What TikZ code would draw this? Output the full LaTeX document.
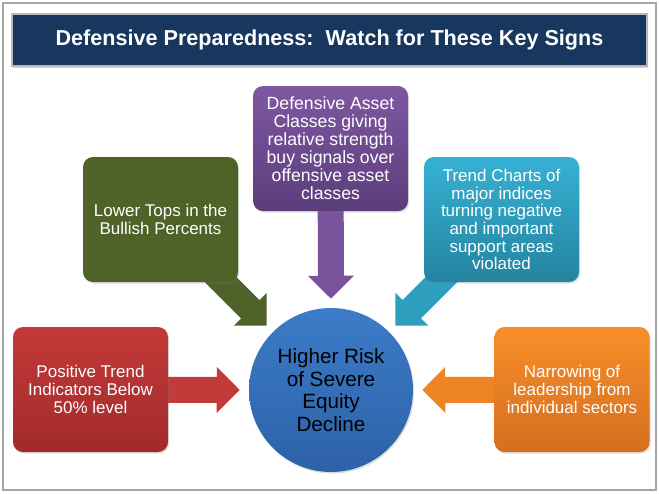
\documentclass[tikz,border=0pt]{standalone}
\usepackage{fontspec}
\setmainfont{Liberation Sans}
\usetikzlibrary{calc, shadows, backgrounds}
\definecolor{titlenavy}{RGB}{23, 55, 94}
\definecolor{framegray}{RGB}{166, 166, 166}
\definecolor{signred}{RGB}{194, 58, 57}
\definecolor{signreddark}{RGB}{163, 42, 42}
\definecolor{signolive}{RGB}{79, 98, 40}
\definecolor{signpurple}{RGB}{126, 88, 162}
\definecolor{signpurpledark}{RGB}{92, 61, 124}
\definecolor{signteal}{RGB}{54, 177, 211}
\definecolor{signtealdark}{RGB}{36, 132, 160}
\definecolor{signorange}{RGB}{248, 142, 42}
\definecolor{signorangedark}{RGB}{212, 111, 30}
\definecolor{centreblue}{RGB}{60, 124, 200}
\definecolor{centrebluedark}{RGB}{45, 97, 168}

% block arrow: colour, from, tip
\newcommand{\blockarrow}[3]{%
  \coordinate (hb) at ($(#3)!17.25pt!(#2)$);
  \fill[#1] ($(#2)!9.75pt!90:(#3)$) -- ($(hb)!9.75pt!90:(#3)$) -- ($(hb)!17.25pt!90:(#3)$)
    -- (#3) -- ($(hb)!17.25pt!-90:(#3)$) -- ($(hb)!9.75pt!-90:(#3)$) -- ($(#2)!9.75pt!-90:(#3)$) -- cycle;}

\begin{document}
\begin{tikzpicture}[
    x=0.75pt, y=-0.75pt,
    sign/.style={rectangle, rounded corners=7.5pt, minimum width=116.25pt, minimum height=93.75pt,
                 inner sep=2pt, text=white, align=center,
                 font=\fontsize{12.75}{13.25}\selectfont,
                 drop shadow={opacity=0.25, shadow xshift=0.8pt, shadow yshift=-1.2pt}},
]
    \useasboundingbox (0,0) rectangle (659,493);

    % Title bar
    \node[fill=titlenavy, draw=gray!55, line width=1pt, minimum width=476.25pt, minimum height=39pt,
          drop shadow={opacity=0.3, shadow xshift=1pt, shadow yshift=-1.5pt},
          text=white, font=\fontsize{16.2}{18}\selectfont\bfseries] (title) at (329.5, 40)
        {Defensive Preparedness:\ \ Watch for These Key Signs};

    % Centre circle
    \node[circle, minimum size=123pt, inner sep=0pt, top color=centreblue, bottom color=centrebluedark,
          align=center, font=\fontsize{15.5}{16.9}\selectfont,
          drop shadow={opacity=0.25, shadow xshift=0.8pt, shadow yshift=-1.2pt}] (risk) at (331, 390)
        {Higher Risk\\of Severe\\Equity\\Decline};

    % Sign boxes
    \node[sign, top color=signred, bottom color=signreddark] (red) at (90.5, 389.5)
        {Positive Trend\\Indicators Below\\50\% level};
    \node[sign, fill=signolive] (olive) at (160.5, 219.5)
        {Lower Tops in the\\Bullish Percents};
    \node[sign, top color=signpurple, bottom color=signpurpledark,
          font=\fontsize{13.25}{13.5}\selectfont] (purple) at (330.5, 148.5)
        {Defensive Asset\\Classes giving\\relative strength\\buy signals over\\offensive asset\\classes};
    \node[sign, top color=signteal, bottom color=signtealdark] (teal) at (501.5, 219.5)
        {Trend Charts of\\major indices\\turning negative\\and important\\support areas\\violated};
    \node[sign, top color=signorange, bottom color=signorangedark] (orange) at (572, 389.5)
        {Narrowing of\\leadership from\\individual sectors};

    % Arrow tips near the circle
    \coordinate (redtip) at ($(risk.west)+(-9,0)$);
    \coordinate (orangetip) at ($(risk.east)+(9,0)$);
    \coordinate (purpletip) at ($(risk.north)+(0,-9)$);
    \coordinate (olivetip) at ($(risk.center)!68.4pt!(olive.center)$);
    \coordinate (tealtip) at ($(risk.center)!68.4pt!(teal.center)$);

    \begin{scope}[on background layer]
        \fill[white] (0,0) rectangle (659,493);
        \blockarrow{signred}{red.center}{redtip}
        \blockarrow{signolive}{olive.center}{olivetip}
        \blockarrow{signpurple!85!signpurpledark}{purple.center}{purpletip}
        \blockarrow{signteal!60!signtealdark}{teal.center}{tealtip}
        \blockarrow{signorange!70!signorangedark}{orange.center}{orangetip}
    \end{scope}

    % Outer frame
    \draw[framegray, line width=1.5pt] (3,3) rectangle (656,490);
\end{tikzpicture}
\end{document}
